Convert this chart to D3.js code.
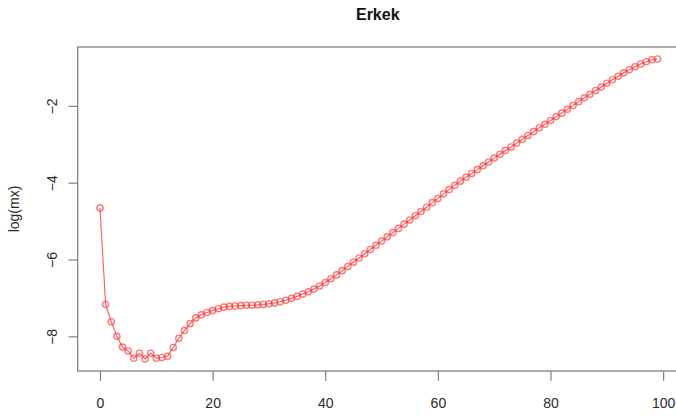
<!DOCTYPE html>
<html>
<head>
<meta charset="utf-8">
<script src="https://cdn.jsdelivr.net/npm/d3@7"></script>
<style>
  html, body { margin: 0; padding: 0; background: #fff; }
  svg { display: block; font-family: "Liberation Sans", Arial, sans-serif; }
</style>
</head>
<body>
<svg id="chart" width="676" height="418"></svg>
<script>
// Age-specific log death rates, males
const ages = d3.range(0, 100);
const logMx = [
  -4.66, -7.17, -7.62, -8.00, -8.28, -8.38, -8.57, -8.44, -8.59, -8.44,
  -8.57, -8.55, -8.52, -8.29, -8.05, -7.85, -7.67, -7.52, -7.44, -7.38,
  -7.33, -7.28, -7.24, -7.22, -7.21, -7.20, -7.19, -7.19, -7.18, -7.17,
  -7.15, -7.13, -7.10, -7.06, -7.01, -6.96, -6.90, -6.84, -6.77, -6.69,
  -6.60, -6.50, -6.40, -6.29, -6.18, -6.07, -5.96, -5.85, -5.74, -5.63,
  -5.52, -5.41, -5.30, -5.19, -5.08, -4.97, -4.86, -4.75, -4.64, -4.52,
  -4.41, -4.29, -4.18, -4.07, -3.96, -3.86, -3.76, -3.66, -3.56, -3.46,
  -3.36, -3.26, -3.16, -3.07, -2.97, -2.87, -2.77, -2.67, -2.57, -2.48,
  -2.38, -2.28, -2.19, -2.09, -1.99, -1.89, -1.79, -1.70, -1.60, -1.51,
  -1.41, -1.32, -1.23, -1.14, -1.06, -0.98, -0.91, -0.85, -0.80, -0.78
];
const xTicks = [0, 20, 40, 60, 80, 100];
const yTicks = [-8, -6, -4, -2];
const title = "Erkek";
const yLabel = "log(mx)";

const svg = d3.select("#chart");
const plot = { left: 77.7, right: 679.8, top: 47, bottom: 371 };

// 4% padding on each side of the data range
const xExt = d3.extent(ages), xPad = (xExt[1] - xExt[0]) * 0.04;
const yExt = d3.extent(logMx), yPad = (yExt[1] - yExt[0]) * 0.04;

const x = d3.scaleLinear()
  .domain([xExt[0] - xPad, xExt[1] + xPad])
  .range([plot.left, plot.right]);
const y = d3.scaleLinear()
  .domain([yExt[0] - yPad, yExt[1] + yPad])
  .range([plot.bottom, plot.top]);

const axisColor = "#808080";
const textColor = "#2a2a2a";

// plot frame
svg.append("rect")
  .attr("x", plot.left).attr("y", plot.top)
  .attr("width", plot.right - plot.left).attr("height", plot.bottom - plot.top)
  .attr("fill", "none").attr("stroke", axisColor).attr("stroke-width", 1.3);

// x axis
const gx = svg.append("g")
  .attr("transform", `translate(0,${plot.bottom})`)
  .call(d3.axisBottom(x).tickValues(xTicks).tickSize(10).tickPadding(17).tickSizeOuter(0));
gx.select(".domain").remove();
gx.selectAll(".tick line").attr("stroke", axisColor).attr("stroke-width", 1.2);
gx.selectAll(".tick text").attr("fill", textColor).attr("font-size", 14)
  .attr("font-family", "Liberation Sans, Arial, sans-serif");

// y axis with rotated labels
const gy = svg.append("g")
  .attr("transform", `translate(${plot.left},0)`)
  .call(d3.axisLeft(y).tickValues(yTicks).tickSize(9).tickSizeOuter(0).tickFormat(d3.format("d")));
gy.select(".domain").remove();
gy.selectAll(".tick line").attr("stroke", axisColor).attr("stroke-width", 1.2);
gy.selectAll(".tick text")
  .attr("fill", textColor).attr("font-size", 14)
  .attr("font-family", "Liberation Sans, Arial, sans-serif")
  .attr("x", null).attr("dy", null)
  .attr("text-anchor", "middle")
  .attr("transform", "translate(-21,0) rotate(-90)");

// series line
svg.append("path")
  .datum(ages)
  .attr("fill", "none")
  .attr("stroke", "#ff2020")
  .attr("stroke-opacity", 0.75)
  .attr("stroke-width", 1.1)
  .attr("d", d3.line().x(i => x(ages[i])).y(i => y(logMx[i])));

// point markers
svg.append("g")
  .selectAll("circle")
  .data(ages)
  .join("circle")
  .attr("cx", i => x(ages[i]))
  .attr("cy", i => y(logMx[i]))
  .attr("r", 3.1)
  .attr("fill", "none")
  .attr("stroke", "#ff3030")
  .attr("stroke-opacity", 0.65)
  .attr("stroke-width", 1.4);

// title
svg.append("text")
  .attr("x", (plot.left + plot.right) / 2 - 1)
  .attr("y", 20)
  .attr("text-anchor", "middle")
  .attr("font-size", 16)
  .attr("font-weight", "bold")
  .attr("fill", "#111")
  .text(title);

// y axis title
svg.append("text")
  .attr("transform", `translate(19,${(plot.top + plot.bottom) / 2}) rotate(-90)`)
  .attr("text-anchor", "middle")
  .attr("font-size", 14)
  .attr("fill", textColor)
  .text(yLabel);
</script>
</body>
</html>
